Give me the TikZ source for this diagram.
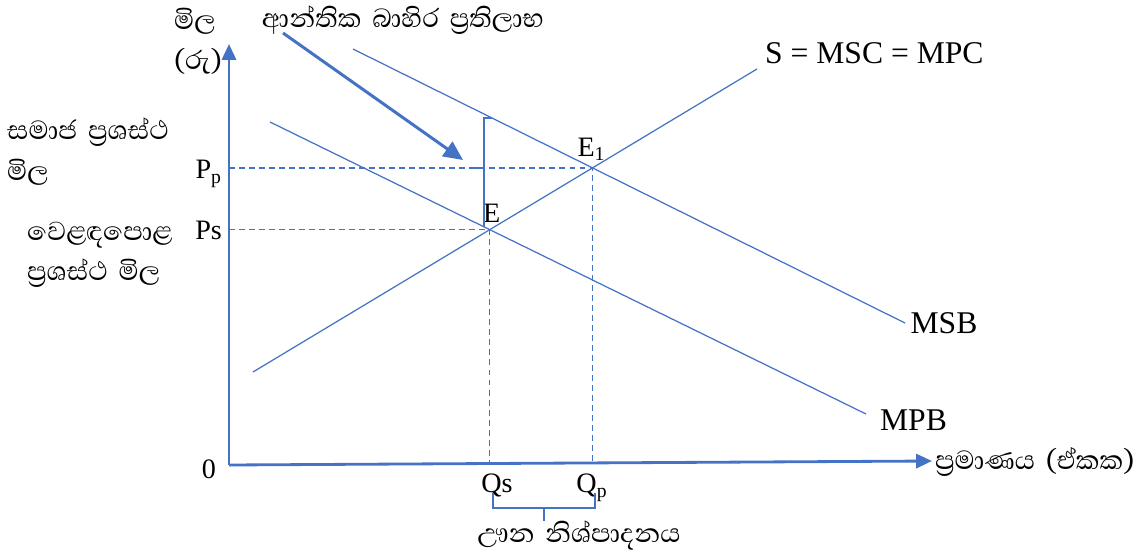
\documentclass[tikz,border=0pt]{standalone}
\usepackage{fontspec}
\setmainfont{Liberation Serif}
\newfontfamily\sinhala[Script=Sinhala,WordSpace=1.7]{Abhaya Libre}
\usetikzlibrary{arrows.meta,positioning,intersections,calc}
\definecolor{xlblue}{RGB}{68,114,196}

\begin{document}
\begin{tikzpicture}[x=0.02cm, y=-0.02cm, font=\fontsize{16}{19}\selectfont]
\tikzset{
  axis/.style ={draw=xlblue, line width=1.6pt, -{Triangle[length=9pt,width=8pt]}},
  curve/.style={draw=xlblue, line width=0.7pt},
  guide/.style={draw=xlblue, line width=0.7pt, dash pattern=on 3.4pt off 2.3pt},
  brc/.style  ={draw=xlblue, line width=0.7pt},
  aM/.style   ={draw=xlblue, line width=1.7pt, -{Triangle[length=11pt,width=10pt]}},
  lbl/.style  ={inner sep=1pt},
  big/.style  ={inner sep=1pt, font=\fontsize{18}{21}\selectfont},
  sl/.style   ={inner sep=1pt, align=left, font=\sinhala\fontsize{19}{23}\selectfont}
}
\useasboundingbox (0,0) rectangle (1139,554);
\coordinate (O) at (229,465);
\coordinate (ytop) at (229,44);
\coordinate (xend) at (932,461);
\draw[axis] (O) -- (ytop);
\draw[axis] (O) -- (xend);
\draw[curve, name path=S] (253,372) -- (757,69) coordinate (s1);
\draw[curve, name path=MPB] (270,122) -- (866,414) coordinate (mpb1);
\draw[curve, name path=MSB] (353,49) -- (905,323) coordinate (msb1);
\path[name intersections={of=S and MPB, by=E}];
\path[name intersections={of=S and MSB, by=E1}];
\draw[guide] (E -| O) -- (E) -- (E |- O);
\draw[guide] (E1 -| O) -- (E1) -- (E1 |- O);
\node[big, anchor=west] (slab) at (763,53) {S = MSC = MPC};
\node[big, right=2pt of msb1] (msb) {MSB};
\node[big, anchor=west] (mpb) at (878,420) {MPB};
\node[lbl, anchor=east] (pp) at (224,174) {P\textsubscript{p}};
\node[lbl, anchor=east] (ps) at (224,230) {Ps};
\node[lbl, anchor=north] (qs) at (497,472) {Qs};
\node[lbl, anchor=north] (qp) at (592,472) {Q\textsubscript{p}};
\node[lbl] (zero) at (209,469) {0};
\node[lbl, anchor=south] (elab) at ($(E)+(2,-5)$) {E};
\node[lbl, anchor=south] (e1lab) at ($(E1)+(-1,-5)$) {E\textsubscript{1}};
\node[sl, anchor=north west] (ylab) at (172,6) {මිල\\(රු)};
\node[sl, anchor=north west] (spp) at (5,116) {සමාජ ප්^^^^200dරශස්ථ\\මිල};
\node[sl, anchor=north west] (mpp) at (25,220) {වෙළඳපොළ\\ප්^^^^200dරශස්ථ මිල};
\node[sl] (ext) at (403,20) {ආන්තික බාහිර ප්^^^^200dරතිලාභ};
\node[sl, anchor=west] (xlab) at (933,462) {ප්^^^^200dරමාණය (ඒකක)};
\node[sl] (under) at (579,536) {ඌන නිශ්පාදනය};
\coordinate (tail) at (283,33);
\coordinate (tip) at (463,160);
\draw[aM] (tail) -- (tip);
\draw[brc] (492,118) -| (484,227);
\draw[brc] (484,168) -- (475,168);
\draw[brc] (493,493) |- (544,508) -- (544,521);
\draw[brc] (595,493) |- (544,508);
\end{tikzpicture}
\end{document}
